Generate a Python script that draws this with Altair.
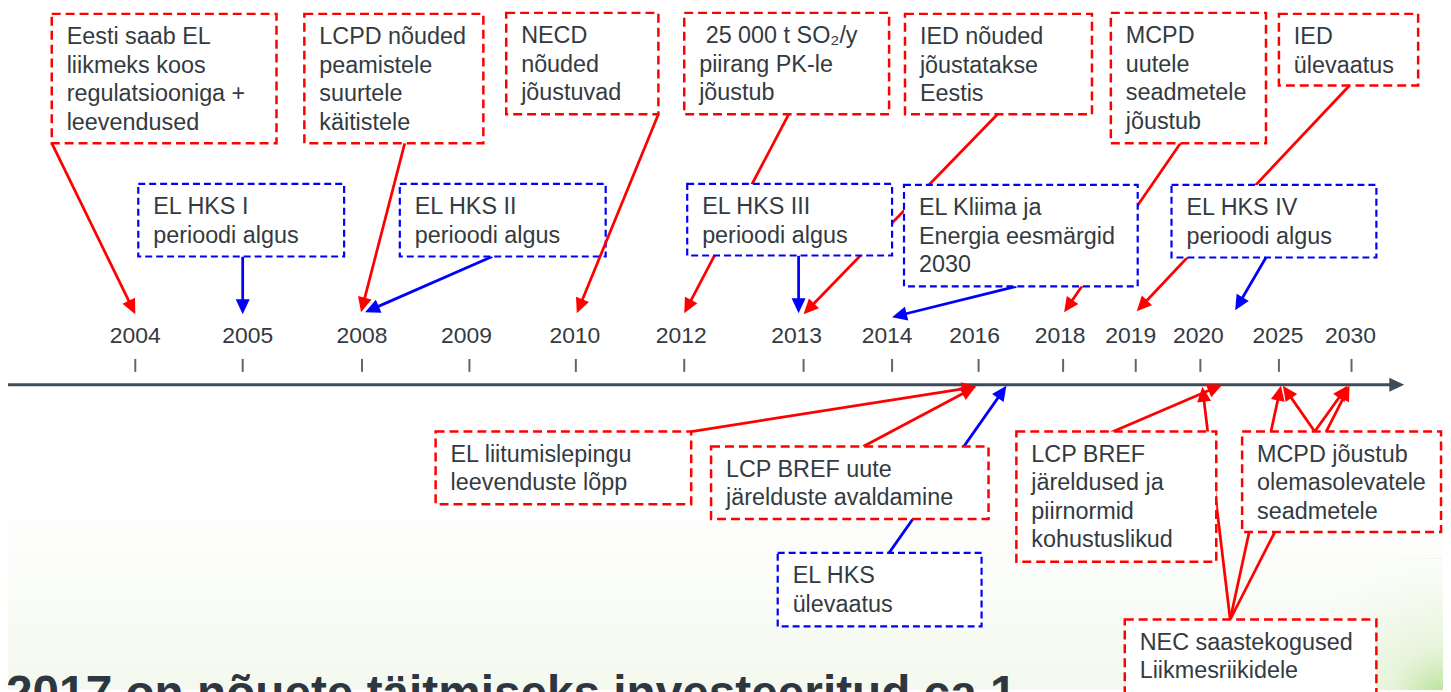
import math
import altair as alt
import pandas as pd

# ---------------- content ----------------
years = ["2004", "2005", "2008", "2009", "2010", "2012", "2013", "2014",
         "2016", "2018", "2019", "2020", "2025", "2030"]

box_text = [
    "Eesti saab EL\nliikmeks koos\nregulatsiooniga +\nleevendused",
    "LCPD nõuded\npeamistele\nsuurtele\nkäitistele",
    "NECD\nnõuded\njõustuvad",
    " 25 000 t SO\u2082/y\npiirang PK-le\njõustub",
    "IED nõuded\njõustatakse\nEestis",
    "MCPD\nuutele\nseadmetele\njõustub",
    "IED\nülevaatus",
    "EL HKS I\nperioodi algus",
    "EL HKS II\nperioodi algus",
    "EL HKS III\nperioodi algus",
    "EL Kliima ja\nEnergia eesmärgid\n2030",
    "EL HKS IV\nperioodi algus",
    "EL liitumislepingu\nleevenduste lõpp",
    "LCP BREF uute\njärelduste avaldamine",
    "EL HKS\nülevaatus",
    "LCP BREF\njäreldused ja\npiirnormid\nkohustuslikud",
    "MCPD jõustub\nolemasolevatele\nseadmetele",
    "NEC saastekogused\nLiikmesriikidele",
]
# "reg" = red (regulation), "ets" = blue (emission trading)
box_group = ["reg", "reg", "reg", "reg", "reg", "reg", "reg",
             "ets", "ets", "ets", "ets", "ets",
             "reg", "reg", "ets", "reg", "reg", "reg"]

link_group = ["reg"] * 7 + ["ets"] * 5 + ["reg", "reg", "ets", "reg", "reg", "reg", "reg", "reg", "reg"]

footer_text = "2017 on nõuete täitmiseks investeeritud ca 1"

# ---------------- layout (pixel positions on the drawing) ----------------
year_label_x = [136, 249, 364, 469, 578, 685, 801, 892, 980, 1066, 1137, 1205, 1285, 1358]
year_tick_x = [136, 244, 364, 472, 579, 688, 808, 897, 984, 1069, 1142, 1207, 1286, 1359]

box_left = [52, 306, 509, 688, 910, 1117, 1286, 139, 402, 691, 909, 1178, 438, 715, 782, 1022, 1249, 1131]
box_top = [12, 12, 11, 11, 12, 11, 12, 183, 183, 183, 184, 184, 432, 447, 554, 432, 432, 621]
box_right = [278, 486, 662, 894, 1098, 1273, 1426, 346, 609, 897, 1144, 1384, 695, 994, 987, 1223, 1449, 1384]
box_bottom = [142, 142, 113, 113, 113, 142, 84, 256, 256, 255, 286, 257, 505, 520, 628, 563, 533, 700]

link_x1 = [52, 407, 662, 793, 1003, 1187, 1357, 244, 495, 803, 1022, 1273, 695, 868, 894, 1117, 1322, 1322, 1237, 1237, 1237]
link_y1 = [142, 142, 113, 113, 113, 142, 84, 256, 256, 255, 286, 257, 432, 447, 554, 433, 432, 432, 621, 621, 621]
link_x2 = [136, 363, 580, 688, 808, 1070, 1143, 244, 367, 803, 897, 1242, 982, 981, 1012, 1229, 1290, 1355, 1209, 1288, 1357]
link_y2 = [314, 312, 313, 313, 314, 312, 311, 314, 312, 313, 317, 310, 387, 387, 386, 385, 386, 386, 387, 386, 386]
link_on_top = [False, False, True] + [False] * 18

axis_y = 385
axis_x_start, axis_x_tip = 8, 1412

# ---------------- styling ----------------
RED, BLUE, AXIS, TXT = "#ff0000", "#0000ff", "#3e4b58", "#333a41"
FONT = "Liberation Sans, Arial, sans-serif"
FS, LH = 23.5, 28.7
COL = {"reg": RED, "ets": BLUE}
ARROW_SHAPE = "M0,0L-0.47,1L0.47,1Z"

X0, X1, Y0, Y1 = 8, 1451, 8, 692
xs = alt.Scale(domain=[X0, X1], nice=False, zero=False)
ys = alt.Scale(domain=[Y0, Y1], nice=False, zero=False, reverse=True)


def enc(x2=False):
    e = dict(x=alt.X("x:Q", scale=xs, axis=None), y=alt.Y("y:Q", scale=ys, axis=None))
    if x2:
        e["x2"] = alt.X2("x2:Q")
        e["y2"] = alt.Y2("y2:Q")
    return e


# ---------------- tables ----------------
bg_df = pd.DataFrame({"x": [X0], "x2": [X1], "y": [500], "y2": [Y1]})
corner_df = pd.DataFrame({"x": [1300], "x2": [X1], "y": [560], "y2": [Y1]})

boxes = pd.DataFrame({
    "x": box_left, "x2": box_right, "y": box_top, "y2": box_bottom,
    "col": [COL[g] for g in box_group], "grp": box_group,
})

line_rows = []
for b, txt in enumerate(box_text):
    for i, line in enumerate(txt.split("\n")):
        indent = 0.278 * FS * (len(line) - len(line.lstrip(" ")))
        line_rows.append({"x": box_left[b] + 15 + indent,
                          "y": box_top[b] + 11.5 + i * LH,
                          "text": line.strip()})
texts = pd.DataFrame(line_rows)

rows, heads = [], []
for i in range(len(link_x1)):
    dx, dy = link_x2[i] - link_x1[i], link_y2[i] - link_y1[i]
    d = math.hypot(dx, dy)
    ux, uy = dx / d, dy / d
    col = COL[link_group[i]]
    rows.append({"x": link_x1[i], "y": link_y1[i],
                 "x2": link_x2[i] - 9 * ux, "y2": link_y2[i] - 9 * uy,
                 "col": col, "top": link_on_top[i]})
    heads.append({"x": link_x2[i], "y": link_y2[i], "col": col,
                  "ang": math.degrees(math.atan2(dx, -dy)) % 360})
heads.append({"x": axis_x_tip, "y": axis_y, "col": AXIS, "ang": 90.0})
links = pd.DataFrame(rows)
heads = pd.DataFrame(heads)

axis_df = pd.DataFrame({"x": [axis_x_start], "x2": [axis_x_tip - 12], "y": [axis_y], "y2": [axis_y]})
ticks = pd.DataFrame({"x": year_tick_x, "x2": year_tick_x, "y": [359] * len(years), "y2": [372] * len(years)})
labels = pd.DataFrame({"x": year_label_x, "y": [343] * len(years), "text": years})
footer = pd.DataFrame({"x": [6], "y": [711], "text": [footer_text]})

# ---------------- layers ----------------
bg = alt.Chart(bg_df).mark_rect(
    fill=alt.LinearGradient(gradient="linear",
                            stops=[alt.GradientStop(color="#ffffff", offset=0),
                                   alt.GradientStop(color="#f4f9ef", offset=1)],
                            x1=0, x2=0, y1=0, y2=1),
    strokeWidth=0).encode(**enc(True))

corner = alt.Chart(corner_df).mark_rect(
    fill=alt.RadialGradient(gradient="radial",
                            stops=[alt.GradientStop(color="rgba(170,220,130,0.9)", offset=0),
                                   alt.GradientStop(color="rgba(215,238,195,0.5)", offset=0.35),
                                   alt.GradientStop(color="rgba(240,248,232,0)", offset=1)],
                            x1=1, y1=1, r1=0, x2=1, y2=1, r2=1),
    strokeWidth=0).encode(**enc(True))

axis_line = alt.Chart(axis_df).mark_rule(color=AXIS, strokeWidth=3).encode(**enc(True))
tick_marks = alt.Chart(ticks).mark_rule(color="#5a6772", strokeWidth=2).encode(**enc(True))
year_labels = alt.Chart(labels).mark_text(
    align="center", baseline="alphabetic", font=FONT, fontSize=23, color=TXT
).encode(text="text:N", **enc())

links_under = alt.Chart(links).transform_filter("!datum.top").mark_rule(
    strokeWidth=2.75, strokeCap="butt"
).encode(color=alt.Color("col:N", scale=None), **enc(True))
links_over = alt.Chart(links).transform_filter("datum.top").mark_rule(
    strokeWidth=2.75, strokeCap="butt"
).encode(color=alt.Color("col:N", scale=None), **enc(True))

boxes_red = alt.Chart(boxes).transform_filter("datum.grp == 'reg'").mark_rect(
    fill="white", stroke=RED, strokeWidth=2.5, strokeDash=[9, 5]
).encode(**enc(True))
boxes_blue = alt.Chart(boxes).transform_filter("datum.grp == 'ets'").mark_rect(
    fill="white", stroke=BLUE, strokeWidth=2.2, strokeDash=[7, 4]
).encode(**enc(True))

box_texts = alt.Chart(texts).mark_text(
    align="left", baseline="top", font=FONT, fontSize=FS, color=TXT
).encode(text="text:N", **enc())

arrowheads = alt.Chart(heads).mark_point(
    shape=ARROW_SHAPE, filled=True, size=900, opacity=1, strokeWidth=0
).encode(color=alt.Color("col:N", scale=None), angle=alt.Angle("ang:Q", scale=None), **enc())

footer_mark = alt.Chart(footer).mark_text(
    align="left", baseline="alphabetic", font=FONT, fontSize=48, fontWeight="bold", color="#2e3740"
).encode(text="text:N", **enc())

chart = alt.layer(
    bg, corner, axis_line, tick_marks, year_labels, links_under, boxes_red, boxes_blue,
    box_texts, links_over, arrowheads, footer_mark
).properties(
    width=X1 - X0, height=Y1 - Y0, padding=0, autosize="none", background="white"
).configure_view(stroke=None)

chart.save("out.html", embed_options={"renderer": "svg", "actions": False})
